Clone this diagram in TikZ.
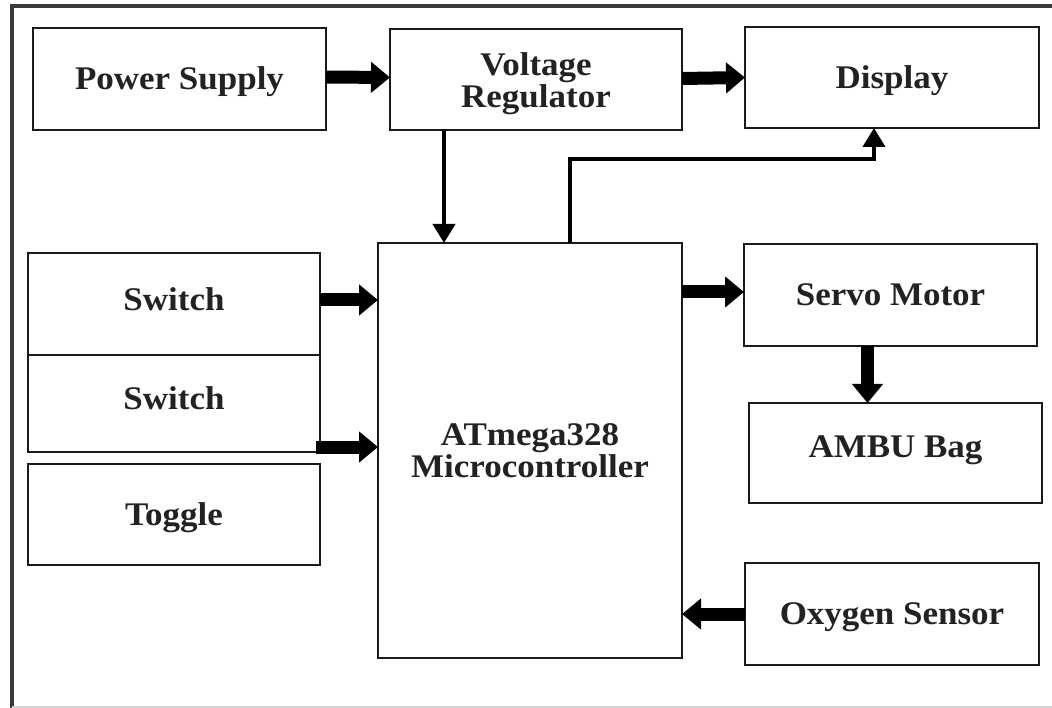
\documentclass[tikz,border=0pt]{standalone}
\usepackage{fontspec}
\setmainfont{Liberation Serif}[FakeStretch=1.06]
\usetikzlibrary{arrows.meta,calc}
\definecolor{ink}{HTML}{1A1A1A}
\definecolor{txt}{HTML}{222222}
\definecolor{frame}{HTML}{3A3A3A}
\tikzset{
  blockbox/.style={draw=ink, line width=2.8pt, fill=white, inner sep=0pt, outer sep=0pt,
    text=txt, font=\fontsize{33}{32}\selectfont\bfseries},
  oneline/.style={text height=23pt, text depth=1.3pt},
  textup/.style={text height=23pt, text depth={1.3pt+#1}},
  twoline/.style={align=center},
  fatarrow/.style={draw=black, line width=13pt, -{Triangle[width=30pt,length=19pt]}},
  thinarrow/.style={draw=black, line width=4pt, line join=miter, -{Triangle[width=22pt,length=19pt]}},
}
\begin{document}
\begin{tikzpicture}[x=1pt,y=-1pt]
\useasboundingbox (0,0) rectangle (1052,708);
\fill[white] (0,0) rectangle (1052,708);
% outer frame
\draw[frame, line width=3.5pt] (1052,6) -- (12,6) -- (12,708);
\draw[gray!35, line width=1.5pt] (12,707) -- (1052,707);

% blocks
\node[blockbox, oneline, minimum width=293pt, minimum height=102pt] (ps) at (179.5,79) {Power Supply};
\node[blockbox, twoline, minimum width=292pt, minimum height=101pt] (vr) at (536,79.5) {\rule{0pt}{32pt}Voltage\\Regulator};
\node[blockbox, oneline, minimum width=294pt, minimum height=101pt] (disp) at (892,77.5) {Display};
\node[blockbox, twoline, minimum width=304pt, minimum height=415pt] (mc) at (530,450.5) {ATmega328\\Microcontroller};
\node[blockbox, textup=8pt, minimum width=292pt, minimum height=102pt] (sw1) at (174,304) {Switch};
\node[blockbox, textup=10pt, minimum width=292pt, minimum height=97pt] (sw2) at (174,403.5) {Switch};
\node[blockbox, oneline, minimum width=292pt, minimum height=101pt] (tog) at (174,514.5) {Toggle};
\node[blockbox, oneline, minimum width=293pt, minimum height=102pt] (servo) at (890.5,295) {Servo Motor};
\node[blockbox, textup=12pt, minimum width=293pt, minimum height=100pt] (ambu) at (895.5,453) {AMBU Bag};
\node[blockbox, oneline, minimum width=294pt, minimum height=102pt] (ox) at (892,614) {Oxygen Sensor};

% connector end points
\coordinate (sw1out) at ([yshift=4pt]sw1.east);
\coordinate (sw2out) at ([xshift=-4pt,yshift=5pt]sw2.south east);
\coordinate (servoin) at ([yshift=3pt]servo.west);

% connectors
\draw[fatarrow] ([yshift=2pt]ps.east) -- ([yshift=2pt]vr.west);
\draw[fatarrow] ([yshift=1pt]vr.east) -- (disp.west);
\draw[thinarrow] ([xshift=54pt]vr.south west) -- ([xshift=66pt]mc.north west);
\draw[thinarrow] ([xshift=192pt]mc.north west) -- ++(0,-84) -| ([xshift=129pt]disp.south west);
\draw[fatarrow] (sw1out) -- (mc.west |- sw1out);
\draw[fatarrow] (sw2out) -- (mc.west |- sw2out);
\draw[fatarrow] (mc.east |- servoin) -- (servoin);
\draw[fatarrow] ([xshift=-23pt]servo.south) -- ([xshift=-28pt]ambu.north);
\draw[fatarrow] (ox.west) -- (mc.east |- ox.west);
\end{tikzpicture}
\end{document}
